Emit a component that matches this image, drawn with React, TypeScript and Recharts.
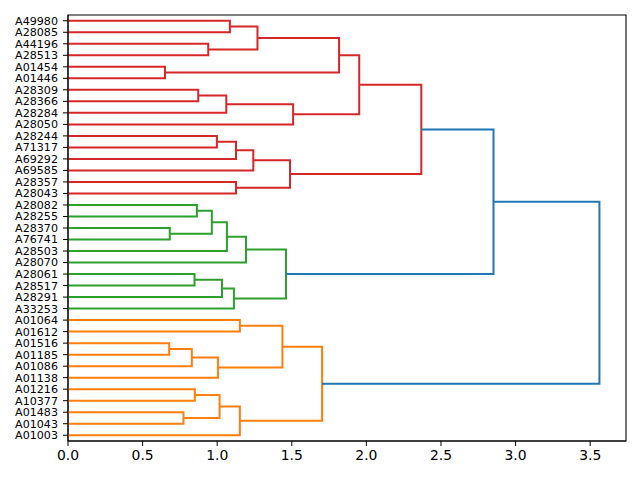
import { LineChart, Line, XAxis, YAxis, ReferenceArea } from 'recharts'

// leaf labels, top to bottom
const leaves = [
  'A49980', 'A28085', 'A44196', 'A28513', 'A01454', 'A01446', 'A28309', 'A28366',
  'A28284', 'A28050', 'A28244', 'A71317', 'A69292', 'A69585', 'A28357', 'A28043',
  'A28082', 'A28255', 'A28370', 'A76741', 'A28503', 'A28070', 'A28061', 'A28517',
  'A28291', 'A33253', 'A01064', 'A01612', 'A01516', 'A01185', 'A01086', 'A01138',
  'A01216', 'A10377', 'A01483', 'A01043', 'A01003',
]

// merges: [left, right, height, colour]; a number refers to an earlier merge
const merges: [string | number, string | number, number, string][] = [
  ['A49980', 'A28085', 1.085, 'r'],
  ['A44196', 'A28513', 0.94, 'r'],
  [0, 1, 1.27, 'r'],
  ['A01454', 'A01446', 0.65, 'r'],
  [2, 3, 1.817, 'r'],
  ['A28309', 'A28366', 0.873, 'r'],
  [5, 'A28284', 1.061, 'r'],
  [6, 'A28050', 1.509, 'r'],
  [4, 7, 1.952, 'r'],
  ['A28244', 'A71317', 0.998, 'r'],
  [9, 'A69292', 1.126, 'r'],
  [10, 'A69585', 1.242, 'r'],
  ['A28357', 'A28043', 1.126, 'r'],
  [11, 12, 1.488, 'r'],
  [8, 13, 2.368, 'r'],
  ['A28082', 'A28255', 0.864, 'g'],
  ['A28370', 'A76741', 0.682, 'g'],
  [15, 16, 0.964, 'g'],
  [17, 'A28503', 1.065, 'g'],
  [18, 'A28070', 1.193, 'g'],
  ['A28061', 'A28517', 0.848, 'g'],
  [20, 'A28291', 1.032, 'g'],
  [21, 'A33253', 1.112, 'g'],
  [19, 22, 1.461, 'g'],
  [14, 23, 2.852, 'b'],
  ['A01064', 'A01612', 1.152, 'o'],
  ['A01516', 'A01185', 0.678, 'o'],
  [26, 'A01086', 0.83, 'o'],
  [27, 'A01138', 1.005, 'o'],
  [25, 28, 1.437, 'o'],
  ['A01216', 'A10377', 0.85, 'o'],
  ['A01483', 'A01043', 0.774, 'o'],
  [30, 31, 1.016, 'o'],
  [32, 'A01003', 1.152, 'o'],
  [29, 33, 1.703, 'o'],
  [24, 34, 3.562, 'b'],
]

const xTicks = [0, 0.5, 1, 1.5, 2, 2.5, 3, 3.5]

const colors: Record<string, string> = { r: '#d62728', g: '#2ca02c', o: '#ff7f0e', b: '#1f77b4' }
const font = 'DejaVu Sans, sans-serif'
const xMax = 3.562 * 1.05
const yMax = leaves.length * 10

const leafY = (i: number) => yMax - 5 - 10 * i
const leafTicks = leaves.map((_, i) => leafY(i))

// same layout as scipy: leaves at 5, 15, ...; a merge sits midway between its children
const nodes: { x: number; y: number }[] = []
const nodeOf = (c: string | number) =>
  typeof c === 'number' ? nodes[c] : { x: 0, y: leafY(leaves.indexOf(c)) }

const links = merges.map(([l, r, h, c]) => {
  const a = nodeOf(l)
  const b = nodeOf(r)
  nodes.push({ x: h, y: (a.y + b.y) / 2 })
  return {
    color: colors[c],
    pts: [
      { x: a.x, y: a.y },
      { x: h, y: a.y },
      { x: h, y: b.y },
      { x: b.x, y: b.y },
    ],
  }
})

export default function App() {
  return (
    <div style={{ position: 'fixed', left: 0, top: 0, background: '#fff' }}>
      <LineChart width={640} height={480} margin={{ top: 15, right: 14, bottom: 0, left: 0 }}>
        <XAxis
          type="number"
          dataKey="x"
          domain={[0, xMax]}
          ticks={xTicks}
          tickFormatter={(v: number) => v.toFixed(1)}
          allowDataOverflow
          height={39}
          tickSize={5}
          tickMargin={4}
          stroke="#000"
          tick={{ fill: '#000', fontSize: 13.9, fontFamily: font }}
        />
        <YAxis
          type="number"
          dataKey="y"
          domain={[0, yMax]}
          ticks={leafTicks}
          interval={0}
          tickFormatter={(v: number) => leaves[Math.round((yMax - 5 - v) / 10)]}
          allowDataOverflow
          width={68}
          tickSize={5}
          tickMargin={5}
          stroke="#000"
          tick={{ fill: '#000', fontSize: 11.1, fontFamily: font }}
        />
        {links.map((lk, i) => (
          <Line
            key={i}
            data={lk.pts}
            dataKey="y"
            type="linear"
            stroke={lk.color}
            strokeWidth={2}
            dot={false}
            activeDot={false}
            isAnimationActive={false}
          />
        ))}
        <ReferenceArea x1={0} x2={xMax} y1={0} y2={yMax} fill="none" stroke="#000" strokeWidth={1.1} />
      </LineChart>
    </div>
  )
}
